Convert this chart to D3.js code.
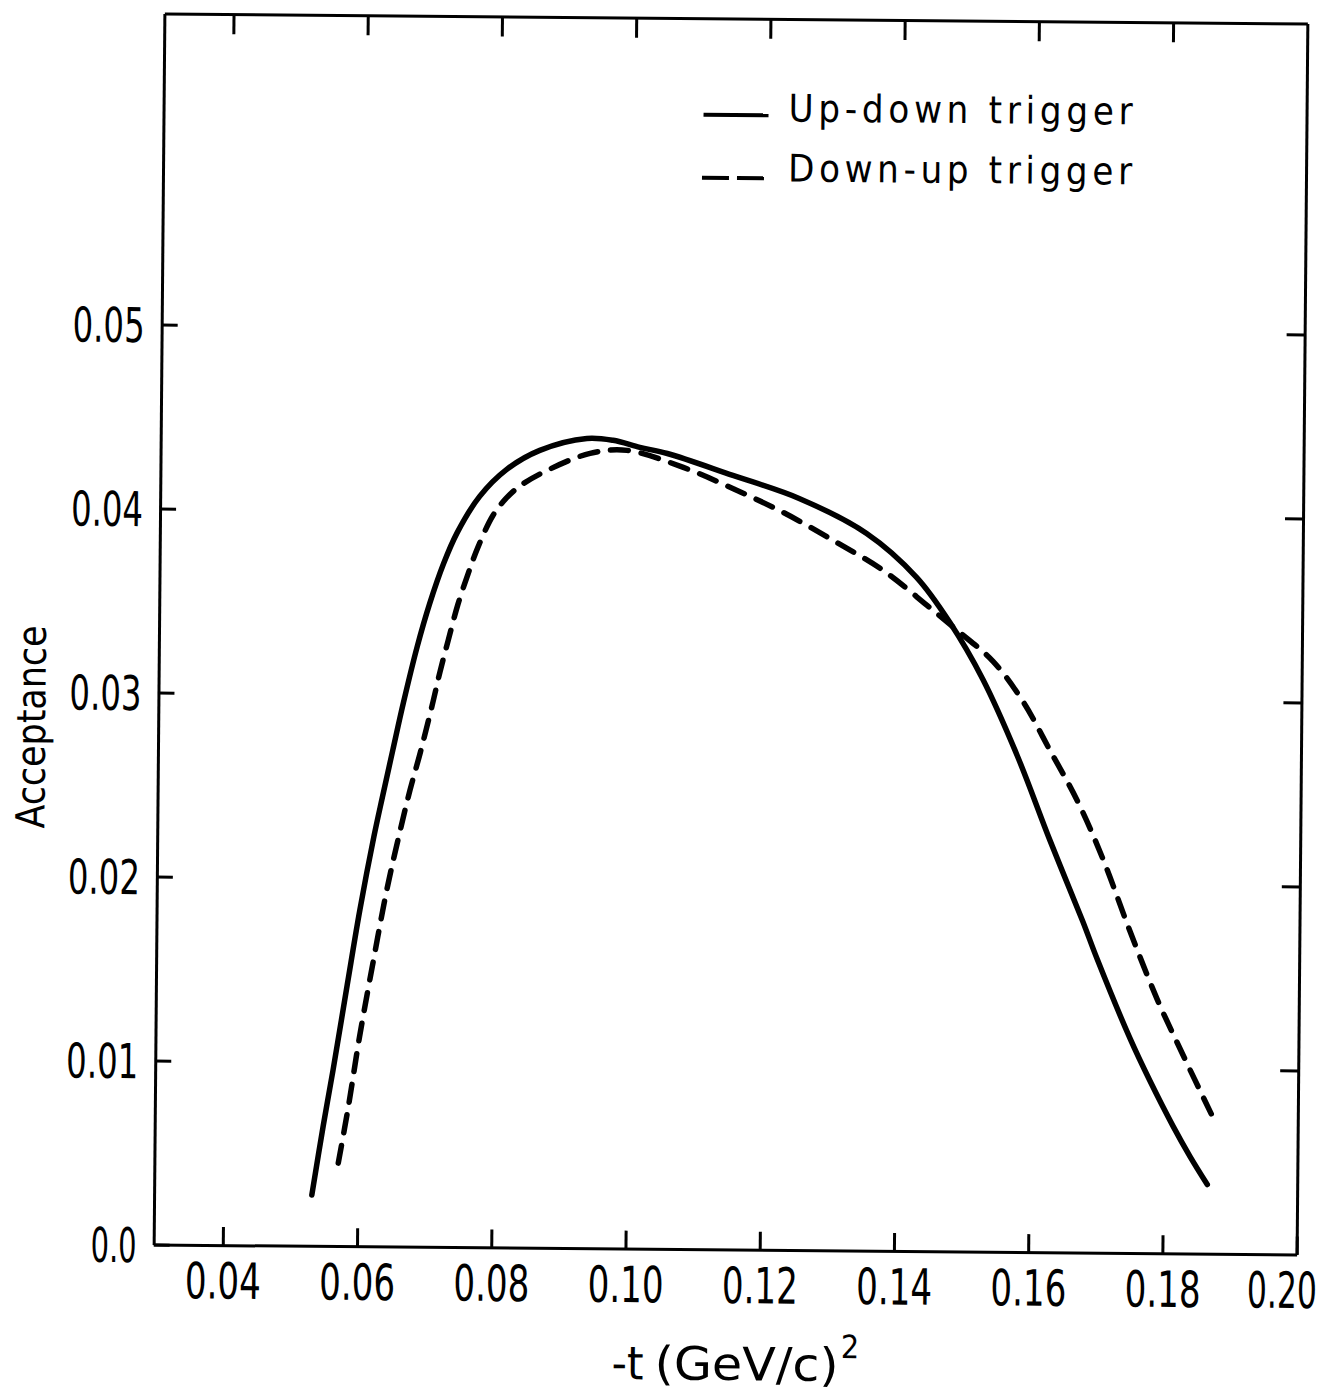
<!DOCTYPE html>
<html>
<head>
<meta charset="utf-8">
<script src="https://cdn.jsdelivr.net/npm/d3@7"></script>
<style>
  body { margin: 0; background: #fff; }
  svg { display: block; }
  .lbl { font-family: 'Liberation Sans Narrow', 'DejaVu Sans Condensed', 'DejaVu Sans', sans-serif; fill: #000; }
</style>
</head>
<body>
<div id="chart"></div>
<script>
// tick values / labels
var xTicks = [0.04, 0.06, 0.08, 0.10, 0.12, 0.14, 0.16, 0.18, 0.20];
var xTickLabels = ["0.04", "0.06", "0.08", "0.10", "0.12", "0.14", "0.16", "0.18", "0.20"];
var yTicks = [0.0, 0.01, 0.02, 0.03, 0.04, 0.05];
var yTickLabels = ["0.0", "0.01", "0.02", "0.03", "0.04", "0.05"];

// Up-down trigger (solid)
var upDownT = [0.0532, 0.0548, 0.0562, 0.0582, 0.0600, 0.0620, 0.0632, 0.0647, 0.0662, 0.0682,
               0.0700, 0.0720, 0.0740, 0.0773, 0.0813, 0.0862, 0.0932, 0.0971, 0.1011, 0.1052,
               0.1150, 0.1249, 0.1350, 0.1425, 0.1475, 0.1525, 0.1577, 0.1627, 0.1677, 0.1699,
               0.1749, 0.1779, 0.1814, 0.1840, 0.1866];
var upDownA = [0.00276, 0.00651, 0.00956, 0.01419, 0.01830, 0.02230, 0.02442, 0.02700, 0.02955, 0.03263,
               0.03497, 0.03713, 0.03883, 0.04081, 0.04229, 0.04334, 0.04401, 0.04392, 0.04355, 0.04323,
               0.04207, 0.04085, 0.03898, 0.03662, 0.03419, 0.03111, 0.02700, 0.02240, 0.01801, 0.01596,
               0.01166, 0.00938, 0.00693, 0.00527, 0.00376];

// Down-up trigger (dashed)
var downUpT = [0.0571, 0.0585, 0.0601, 0.0620, 0.0640, 0.0659, 0.0673, 0.0688, 0.0705, 0.0716,
               0.0728, 0.0742, 0.0757, 0.0771, 0.0793, 0.0812, 0.0833, 0.0873, 0.0937, 0.0992,
               0.1076, 0.1150, 0.1225, 0.1300, 0.1375, 0.1441, 0.1486, 0.1540, 0.1585, 0.1626,
               0.1667, 0.1706, 0.1747, 0.1789, 0.1828, 0.1871];
var downUpA = [0.00451, 0.00751, 0.01137, 0.01539, 0.01942, 0.02263, 0.02481, 0.02688, 0.02944, 0.03123,
               0.03297, 0.03493, 0.03662, 0.03804, 0.03978, 0.04070, 0.04140, 0.04225, 0.04320, 0.04338,
               0.04248, 0.04136, 0.04009, 0.03859, 0.03698, 0.03510, 0.03376, 0.03209, 0.02993, 0.02728,
               0.02458, 0.02143, 0.01754, 0.01380, 0.01080, 0.00760];

var seriesNames = ["Up-down trigger", "Down-up trigger"];

var W = 1337, H = 1391;
var box = {left: 159, right: 1302, top: 18.5, bottom: 1249.5};

var svg = d3.select("#chart").append("svg")
    .attr("width", W)
    .attr("height", H);

// the scanned page is slightly tilted
var g = svg.append("g").attr("transform", "rotate(0.5,730,634)");

var x = d3.scaleLinear().domain([0.0297, 0.20]).range([box.left, box.right]);
var y = d3.scaleLinear().domain([0, 0.0669]).range([box.bottom, box.top]);

function styleAxis(sel) {
  sel.select(".domain").attr("stroke", "#000").attr("stroke-width", 3);
  sel.selectAll(".tick line").attr("stroke", "#000").attr("stroke-width", 3);
}

var xAxis = d3.axisBottom(x)
    .tickValues(xTicks)
    .tickSize(-18)
    .tickSizeOuter(0)
    .tickPadding(18)
    .tickFormat(function(d, i) { return xTickLabels[i]; });

var lastX = xTicks.length - 1;
var gx = g.append("g")
    .attr("transform", "translate(0," + box.bottom + ")")
    .call(xAxis)
    .call(styleAxis);
gx.selectAll(".tick text")
    .attr("class", "lbl")
    .attr("font-size", 50)
    .attr("dy", "0.71em")
    // last label is right-aligned so it stays on the page
    .attr("text-anchor", function(d, i) { return i == lastX ? "end" : "middle"; })
    .attr("dx", function(d, i) { return i == lastX ? 20 : 0; })
    .attr("textLength", function(d, i) { return i == lastX ? 70 : 76; })
    .attr("lengthAdjust", "spacingAndGlyphs");

var yAxis = d3.axisLeft(y)
    .tickValues(yTicks)
    .tickSize(-16)
    .tickSizeOuter(0)
    .tickPadding(17)
    .tickFormat(function(d, i) { return yTickLabels[i]; });

var gy = g.append("g")
    .attr("transform", "translate(" + box.left + ",0)")
    .call(yAxis)
    .call(styleAxis);
gy.selectAll(".tick text")
    .attr("class", "lbl")
    .attr("font-size", 48)
    .attr("dy", "0.36em")
    .attr("textLength", function(d, i) { return yTickLabels[i].length == 4 ? 72 : 46; })
    .attr("lengthAdjust", "spacingAndGlyphs");

// top and right frame with inward ticks, no labels
g.append("g")
    .attr("transform", "translate(0," + box.top + ")")
    .call(d3.axisTop(x).tickValues(xTicks.slice(0, -1)).tickSize(-20).tickSizeOuter(0).tickFormat(""))
    .call(styleAxis);

g.append("g")
    .attr("transform", "translate(" + box.right + ",0)")
    .call(d3.axisRight(y).tickValues(yTicks.slice(1)).tickSize(-18).tickSizeOuter(0).tickFormat(""))
    .call(styleAxis);

// curves
var line = d3.line()
    .x(function(d) { return x(d.t); })
    .y(function(d) { return y(d.a); })
    .curve(d3.curveCatmullRom.alpha(0.5));

var solidData = upDownT.map(function(t, i) { return {t: t, a: upDownA[i]}; });
var dashData = downUpT.map(function(t, i) { return {t: t, a: downUpA[i]}; });

g.append("path")
    .datum(solidData)
    .attr("fill", "none")
    .attr("stroke", "#000")
    .attr("stroke-width", 5.5)
    .attr("stroke-linecap", "round")
    .attr("d", line);

g.append("path")
    .datum(dashData)
    .attr("fill", "none")
    .attr("stroke", "#000")
    .attr("stroke-width", 5.5)
    .attr("stroke-linecap", "round")
    .attr("stroke-dasharray", "18,13")
    .attr("d", line);

// legend
var leg = g.append("g");
leg.append("line")
    .attr("x1", 699).attr("x2", 764).attr("y1", 115).attr("y2", 115)
    .attr("stroke", "#000").attr("stroke-width", 4);
leg.append("line")
    .attr("x1", 698).attr("x2", 762).attr("y1", 178).attr("y2", 178)
    .attr("stroke", "#000").attr("stroke-width", 4)
    .attr("stroke-dasharray", "27,8");
leg.selectAll("text.legend")
    .data(seriesNames)
    .enter().append("text")
    .attr("class", "lbl legend")
    .attr("x", 784)
    .attr("y", function(d, i) { return 121 + i * 60; })
    .attr("font-size", 38)
    .attr("textLength", 344)
    .attr("lengthAdjust", "spacing")
    .text(function(d) { return d; });

// axis titles
g.append("text")
    .attr("class", "lbl")
    .attr("transform", "translate(46,733) rotate(-90)")
    .attr("text-anchor", "middle")
    .attr("font-size", 40)
    .attr("textLength", 203)
    .attr("lengthAdjust", "spacingAndGlyphs")
    .text("Acceptance");

g.append("text")
    .attr("class", "lbl")
    .attr("x", 618).attr("y", 1380)
    .attr("font-size", 46)
    .attr("textLength", 32)
    .attr("lengthAdjust", "spacingAndGlyphs")
    .text("-t");
g.append("text")
    .attr("class", "lbl")
    .attr("x", 661).attr("y", 1380)
    .attr("font-size", 46)
    .attr("textLength", 184)
    .attr("lengthAdjust", "spacingAndGlyphs")
    .text("(GeV/c)");
g.append("text")
    .attr("class", "lbl")
    .attr("x", 847).attr("y", 1357)
    .attr("font-size", 32)
    .text("2");
</script>
</body>
</html>
